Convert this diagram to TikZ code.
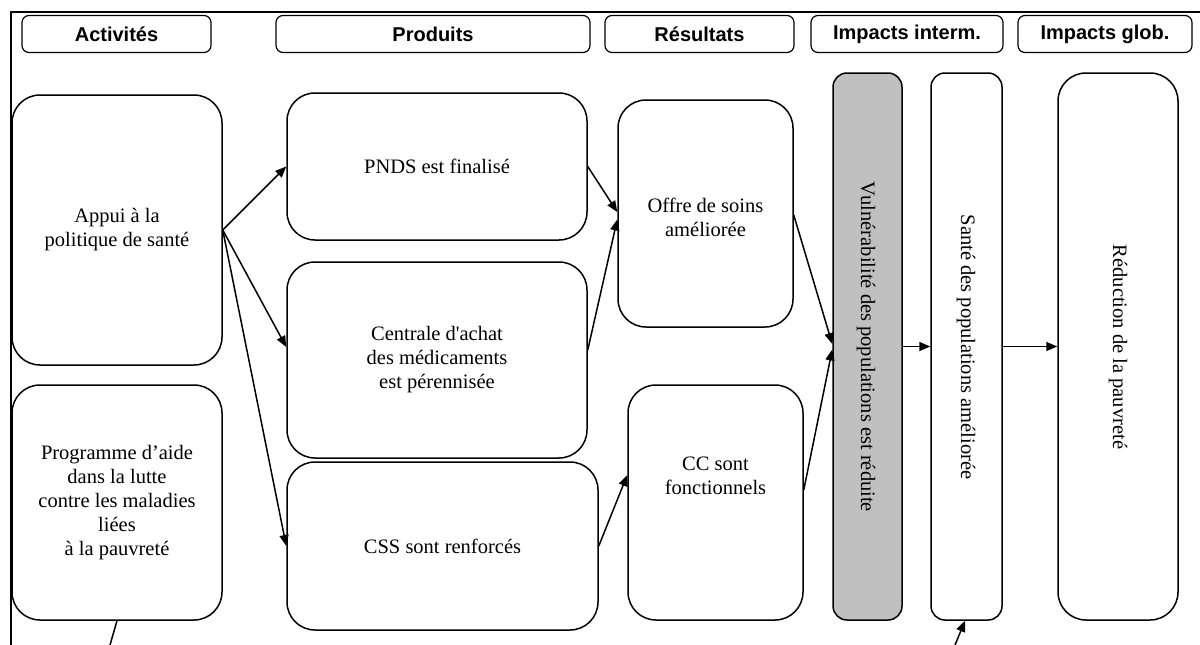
\documentclass[tikz,border=0pt]{standalone}
\usepackage{fontspec}
\setmainfont{Liberation Serif}
\newfontfamily\headfont{Liberation Sans}
\usetikzlibrary{arrows.meta}
\definecolor{boxgray}{RGB}{192,192,192}

\begin{document}
\begin{tikzpicture}[x=1pt,y=-1pt,
  box/.style={draw, line width=1.5pt, rounded corners=28pt, align=center,
    font=\fontsize{20.5}{24}\selectfont, inner sep=0pt},
  narrow/.style={box, rounded corners=14pt},
  head/.style={draw, line width=1.2pt, rounded corners=7pt, inner sep=0pt,
    minimum height=37pt, font=\headfont\bfseries\fontsize{20}{23}\selectfont},
  label/.style={align=center, inner sep=0pt, font=\fontsize{20.5}{24}\selectfont},
  vlabel/.style={label, rotate=-90},
  arr/.style={line width=1.5pt, -{Triangle[length=11pt,width=9pt]}},
  link/.style={line width=1.5pt}
]
\useasboundingbox (0,0) rectangle (1200,645);

% outer frame (top and left edges)
\draw[line width=2.2pt] (1200,12) -- (11,12) -- (11,645);

% column headers
\node[head, minimum width=189] (hact) at (116.5,34) {Activités};
\node[head, minimum width=314] (hprod) at (433,34) {Produits};
\node[head, minimum width=189] (hres) at (699.5,34) {Résultats};
\node[head, minimum width=192] (hint) at (907,34) {Impacts interm.};
\node[head, minimum width=174] (hglob) at (1105,34) {Impacts glob.};

% activities
\node[box, minimum width=210, minimum height=270] (appui) at (117,230)
  {Appui à la\\politique de santé};
\node[box, minimum width=210, minimum height=235] (prog) at (117,502.5)
  {Programme d’aide\\dans la lutte\\contre les maladies\\liées\\ à la pauvreté};

% outputs
\node[box, minimum width=300, minimum height=147] (pnds) at (437,166.5)
  {PNDS est finalisé};
\node[box, minimum width=300, minimum height=196] (centrale) at (437,360)
  {Centrale d\textquotesingle achat\\des médicaments\\ est pérennisée};
\node[box, minimum width=311, minimum height=168] (css) at (442.5,546)
  {CSS sont renforcés};

% results
\node[box, minimum width=175, minimum height=227] (offre) at (705.5,213.5) {};
\node[label] (offretxt) at (705.5,217) {Offre de soins\\améliorée};
\node[box, minimum width=175, minimum height=235] (cc) at (715.5,502.5) {};
\node[label] (cctxt) at (715.5,476) {CC sont\\fonctionnels};

% impacts
\node[narrow, fill=boxgray, minimum width=69, minimum height=547] (vuln) at (867.5,346.5) {};
\node[vlabel] (vulntxt) at (866,347) {Vulnérabilité des populations est réduite};
\node[narrow, minimum width=71, minimum height=547] (sante) at (966.5,346.5) {};
\node[vlabel] (santetxt) at (966,347) {Santé des populations améliorée};
\node[box, minimum width=120, minimum height=547] (reduc) at (1118,346.5) {};
\node[vlabel] (reductxt) at (1118,347) {Réduction de la pauvreté};

% connectors
\draw[arr] (appui.east) -- (pnds.west);
\draw[arr] (appui.east) -- ([yshift=13pt]centrale.west);
\draw[arr] (appui.east) -- (css.west);
\draw[arr] (pnds.east) -- ([yshift=1.5pt]offre.west);
\draw[arr] ([yshift=10pt]centrale.east) -- ([yshift=-6pt]offre.west);
\draw[arr] (css.east) -- ([yshift=27.5pt]cc.west);
\draw[arr] ([yshift=-1.5pt]offre.east) -- ([yshift=2.5pt]vuln.west);
\draw[arr] ([yshift=12.5pt]cc.east) -- ([yshift=-3pt]vuln.west);
\draw[arr] (vuln.east) -- (sante.west);
\draw[arr] (sante.east) -- (reduc.west);

% links leaving the frame at the bottom
\coordinate (progout) at (110,645);
\coordinate (santein) at (955,645);
\draw[link] (prog.south) -- (progout);
\draw[arr] (santein) -- ([xshift=-1.5pt]sante.south);
\end{tikzpicture}
\end{document}
